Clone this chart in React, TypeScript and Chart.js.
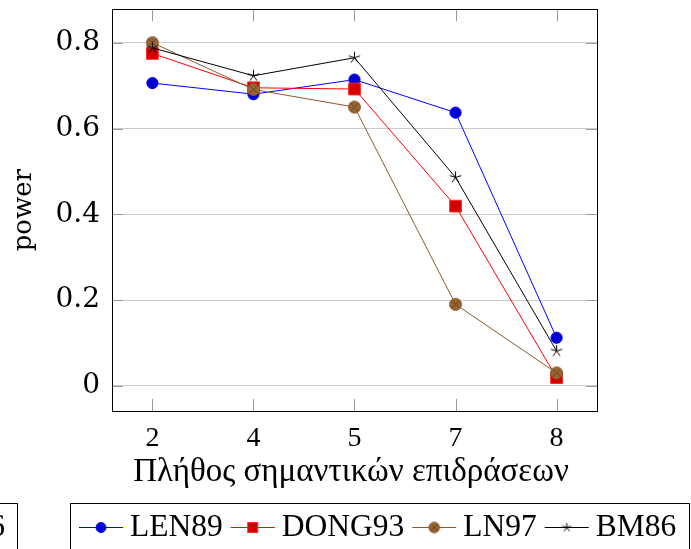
import React, { useEffect, useRef } from 'react';
import { Chart, registerables } from 'chart.js';

Chart.register(...registerables);

// ---- data ----
const categories = ['2', '4', '5', '7', '8'];
const len89 = [0.706, 0.68, 0.714, 0.637, 0.112];
const dong93 = [0.775, 0.695, 0.692, 0.419, 0.019];
const ln97 = [0.8, 0.691, 0.65, 0.19, 0.03];
const bm86 = [0.788, 0.723, 0.765, 0.486, 0.081];
const yTicks = [0, 0.2, 0.4, 0.6, 0.8];
const seriesNames = ['LEN89', 'DONG93', 'LN97', 'BM86'];
const xTitle = 'Πλήθος σημαντικών επιδράσεων';
const yTitle = 'power';
const clippedLegendText = 'BM86';

const SERIF = '"Liberation Serif", "Times New Roman", serif';
const SLAB = '"DejaVu Serif", serif';

const BLUE_LINE = '#0000ff';
const BLUE_FILL = '#0000d0';
const RED_LINE = '#ff0000';
const RED_FILL = '#d40000';
const BROWN_LINE = '#8c5a2d';
const BROWN_FILL = '#976434';
const BROWN_DARK = '#6a4222';

function makeMark(size: number, draw: (ctx: CanvasRenderingContext2D, c: number) => void) {
  const cv = document.createElement('canvas');
  cv.width = size;
  cv.height = size;
  const ctx = cv.getContext('2d')!;
  draw(ctx, size / 2);
  return cv;
}

// circle with an inscribed cross (otimes)
function otimesMark(r: number) {
  const size = Math.ceil(r * 2 + 3);
  return makeMark(size, (ctx, c) => {
    ctx.beginPath();
    ctx.arc(c, c, r, 0, Math.PI * 2);
    ctx.fillStyle = BROWN_FILL;
    ctx.fill();
    ctx.lineWidth = 1;
    ctx.strokeStyle = BROWN_LINE;
    ctx.stroke();
    const d = r * Math.SQRT1_2;
    ctx.beginPath();
    ctx.moveTo(c - d, c - d);
    ctx.lineTo(c + d, c + d);
    ctx.moveTo(c - d, c + d);
    ctx.lineTo(c + d, c - d);
    ctx.strokeStyle = BROWN_DARK;
    ctx.lineWidth = 0.9;
    ctx.stroke();
  });
}

// five-armed star
function starMark(r: number) {
  const size = Math.ceil(r * 2 + 3);
  return makeMark(size, (ctx, c) => {
    ctx.beginPath();
    for (let k = 0; k < 5; k++) {
      const a = -Math.PI / 2 + (k * 2 * Math.PI) / 5;
      ctx.moveTo(c, c);
      ctx.lineTo(c + r * Math.cos(a), c + r * Math.sin(a));
    }
    ctx.strokeStyle = '#000';
    ctx.lineWidth = 1;
    ctx.stroke();
  });
}

type MarkKind = 'circle' | 'square' | 'otimes' | 'star';
const markKinds: MarkKind[] = ['circle', 'square', 'otimes', 'star'];
const lineColors = [BLUE_LINE, RED_LINE, BROWN_LINE, '#000000'];

function drawLegendMark(ctx: CanvasRenderingContext2D, kind: MarkKind, x: number, y: number, marks: Record<string, HTMLCanvasElement>) {
  ctx.save();
  if (kind === 'circle') {
    ctx.beginPath();
    ctx.arc(x, y, 5, 0, Math.PI * 2);
    ctx.fillStyle = BLUE_FILL;
    ctx.fill();
    ctx.strokeStyle = BLUE_LINE;
    ctx.lineWidth = 1;
    ctx.stroke();
  } else if (kind === 'square') {
    ctx.fillStyle = RED_FILL;
    ctx.fillRect(x - 5, y - 5, 10, 10);
    ctx.strokeStyle = '#ff2a2a';
    ctx.lineWidth = 1;
    ctx.strokeRect(x - 5, y - 5, 10, 10);
  } else {
    const m = marks[kind];
    ctx.drawImage(m, x - m.width / 2, y - m.height / 2);
  }
  ctx.restore();
}

export default function App() {
  const ref = useRef<HTMLCanvasElement | null>(null);

  useEffect(() => {
    const canvas = ref.current;
    if (!canvas) return;

    const plotOtimes = otimesMark(6);
    const plotStar = starMark(6);
    const legendMarks = { otimes: otimesMark(5.3), star: starMark(4.5) } as Record<string, HTMLCanvasElement>;

    const toPoints = (vals: number[]) => vals.map((v, i) => ({ x: i, y: v }));

    // inward tick marks, the frame around the plot, titles and legend panel
    const framePlugin = {
      id: 'frame',
      beforeDatasetsDraw(chart: any) {
        const { ctx, chartArea: a, scales } = chart;
        ctx.save();
        ctx.strokeStyle = '#9a9a9a';
        ctx.lineWidth = 1;
        ctx.beginPath();
        for (const v of yTicks) {
          const y = Math.round(scales.y.getPixelForValue(v)) + 0.5;
          ctx.moveTo(a.left, y);
          ctx.lineTo(a.left + 11, y);
          ctx.moveTo(a.right - 11, y);
          ctx.lineTo(a.right, y);
        }
        categories.forEach((_, i) => {
          const x = Math.round(scales.x.getPixelForValue(i)) + 0.5;
          ctx.moveTo(x, a.bottom);
          ctx.lineTo(x, a.bottom - 12);
          ctx.moveTo(x, a.top);
          ctx.lineTo(x, a.top + 12);
        });
        ctx.stroke();
        ctx.restore();
      },
      afterDraw(chart: any) {
        const { ctx, chartArea: a } = chart;
        ctx.save();
        ctx.strokeStyle = '#000';
        ctx.lineWidth = 1;
        ctx.strokeRect(Math.round(a.left) + 0.5, Math.round(a.top) + 0.5, Math.round(a.right - a.left), Math.round(a.bottom - a.top));

        // axis titles
        ctx.fillStyle = '#000';
        ctx.font = `33px ${SERIF}`;
        ctx.textAlign = 'center';
        ctx.textBaseline = 'alphabetic';
        ctx.fillText(xTitle, 351, 481);

        ctx.save();
        ctx.translate(24, (a.top + a.bottom) / 2);
        ctx.rotate(-Math.PI / 2);
        ctx.font = `26px ${SLAB}`;
        ctx.textBaseline = 'middle';
        ctx.fillText(yTitle, 0, 0);
        ctx.restore();

        // legend panel
        ctx.lineWidth = 1;
        ctx.strokeStyle = '#000';
        ctx.strokeRect(70.5, 503.5, 619, 80);
        ctx.strokeRect(-120.5, 503.5, 138, 80);

        ctx.font = `31.5px ${SERIF}`;
        ctx.textAlign = 'right';
        ctx.fillText(clippedLegendText, 5, 536);

        ctx.textAlign = 'left';
        let x = 79;
        const lineY = 527.5;
        seriesNames.forEach((name, i) => {
          ctx.beginPath();
          ctx.moveTo(x, lineY);
          ctx.lineTo(x + 44, lineY);
          ctx.strokeStyle = lineColors[i];
          ctx.lineWidth = 1;
          ctx.stroke();
          drawLegendMark(ctx, markKinds[i], x + 22, lineY, legendMarks);
          x += 44 + 7;
          ctx.fillStyle = '#000';
          ctx.fillText(name, x, 536);
          x += ctx.measureText(name).width + 8;
        });
        ctx.restore();
      },
    };

    const chart = new Chart(canvas, {
      type: 'line',
      data: {
        datasets: [
          {
            label: seriesNames[0],
            data: toPoints(len89),
            borderColor: BLUE_LINE,
            borderWidth: 1,
            pointStyle: 'circle',
            pointRadius: 5.6,
            pointBackgroundColor: BLUE_FILL,
            pointBorderColor: BLUE_LINE,
            pointBorderWidth: 1,
            order: 3,
          },
          {
            label: seriesNames[1],
            data: toPoints(dong93),
            borderColor: RED_LINE,
            borderWidth: 1,
            pointStyle: 'rect',
            pointRadius: 8.3,
            pointBackgroundColor: RED_FILL,
            pointBorderColor: '#ff2a2a',
            pointBorderWidth: 1,
            order: 2,
          },
          {
            label: seriesNames[2],
            data: toPoints(ln97),
            borderColor: BROWN_LINE,
            borderWidth: 1,
            pointStyle: plotOtimes,
            pointRadius: 6,
            order: 1,
          },
          {
            label: seriesNames[3],
            data: toPoints(bm86),
            borderColor: '#000000',
            borderWidth: 1,
            pointStyle: plotStar,
            pointRadius: 6,
            order: 0,
          },
        ] as any,
      },
      options: {
        animation: false,
        responsive: false,
        devicePixelRatio: 1,
        layout: { padding: { top: 8, right: 94, left: 0, bottom: 0 } },
        plugins: { legend: { display: false }, tooltip: { enabled: false } },
        elements: { line: { tension: 0, fill: false } },
        scales: {
          x: {
            type: 'linear',
            min: -0.4,
            max: 4.4,
            afterBuildTicks: (s: any) => {
              s.ticks = categories.map((_, i) => ({ value: i }));
            },
            afterFit: (s: any) => {
              s.height = 138;
              s.paddingLeft = 0;
              s.paddingRight = 0;
            },
            grid: { display: false, drawTicks: false },
            border: { display: false },
            ticks: {
              padding: 11,
              color: '#000',
              font: { family: SERIF, size: 28 },
              callback: (v: any) => categories[Math.round(Number(v))] ?? '',
            },
          },
          y: {
            type: 'linear',
            min: -0.0588,
            max: 0.878,
            afterBuildTicks: (s: any) => {
              s.ticks = yTicks.map((v) => ({ value: v }));
            },
            afterFit: (s: any) => {
              s.width = 112;
              s.paddingTop = 0;
              s.paddingBottom = 0;
            },
            grid: { color: '#cccccc', lineWidth: 1, drawTicks: false },
            border: { display: false },
            ticks: {
              padding: 12,
              color: '#000',
              font: { family: SLAB, size: 28 },
              callback: (v: any) => (Number(v) === 0 ? '0' : Number(v).toFixed(1)),
            },
          },
        },
      } as any,
      plugins: [framePlugin],
    });

    return () => chart.destroy();
  }, []);

  return (
    <div style={{ position: 'absolute', left: 0, top: 0, width: 691, height: 549, background: '#fff' }}>
      <canvas ref={ref} width={691} height={549} style={{ display: 'block' }} />
    </div>
  );
}
